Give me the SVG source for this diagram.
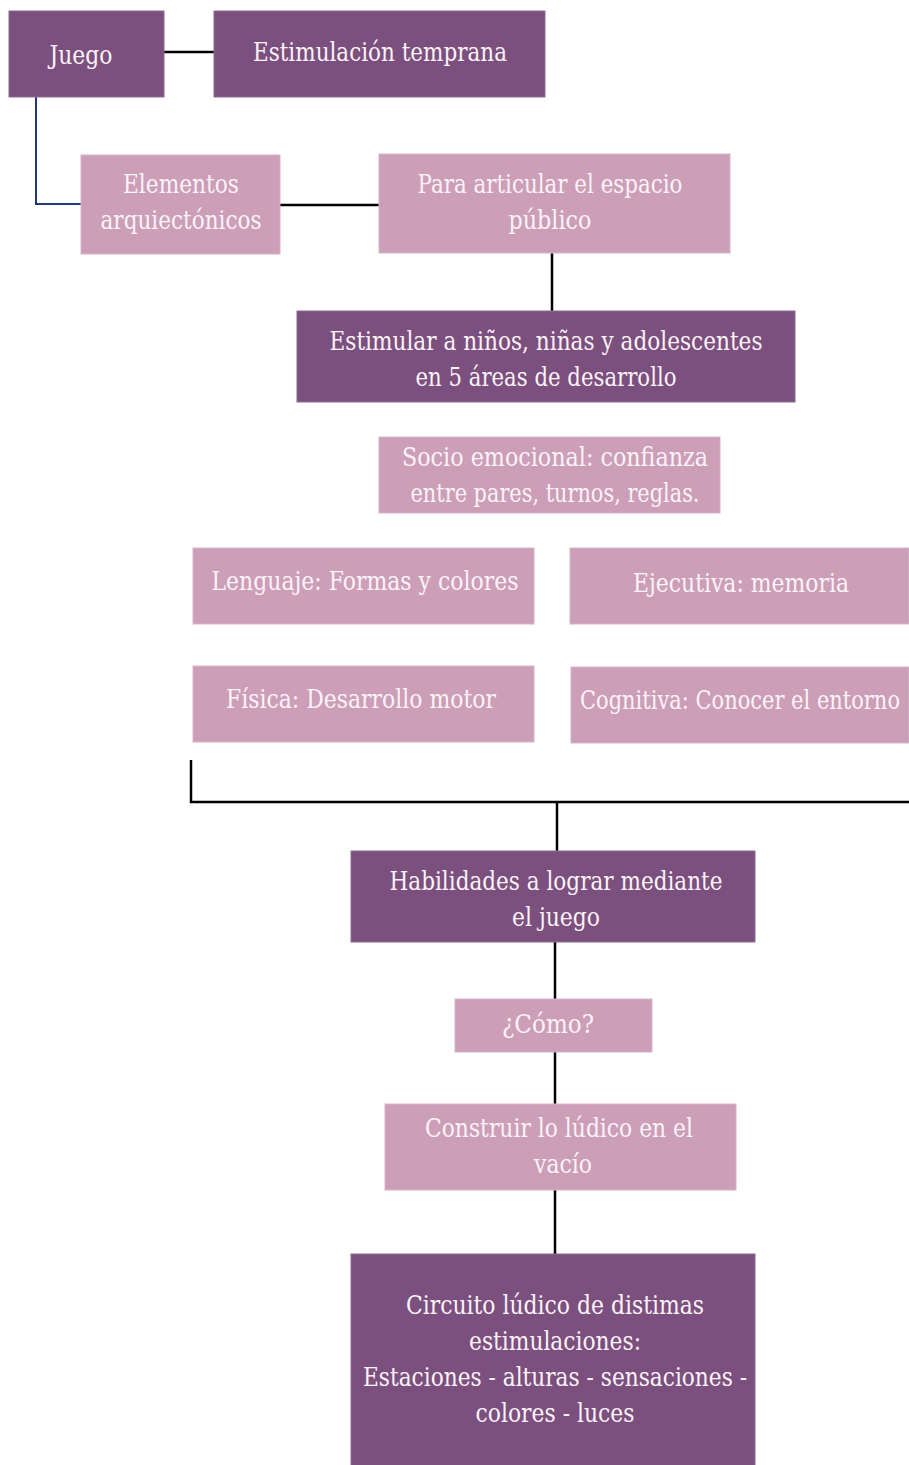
<svg xmlns="http://www.w3.org/2000/svg" width="909" height="1465" viewBox="0 0 909 1465">
<style>
.dark{fill:#7B4F7E;stroke:#8E6A90;stroke-width:1}
.light{fill:#CC9EB8;stroke:#D7B3C7;stroke-width:1}
text{font-size:26px;fill:#FBF3F7;text-anchor:middle}
.c{stroke:#000;stroke-width:2.5;fill:none}
</style>
<rect width="909" height="1465" fill="#FFFFFF"/>
<g id="connectors">
<line class="c" x1="164" y1="52" x2="214" y2="52"/>
<polyline points="36,97 36,204 81,204" fill="none" stroke="#1F3A7A" stroke-width="2"/>
<line class="c" x1="280" y1="205" x2="379" y2="205"/>
<line class="c" x1="552" y1="253" x2="552" y2="311"/>
<polyline class="c" points="191,760 191,802 909,802"/>
<line class="c" x1="557" y1="802" x2="557" y2="851"/>
<line class="c" x1="555" y1="942" x2="555" y2="999"/>
<line class="c" x1="555" y1="1052" x2="555" y2="1104"/>
<line class="c" x1="555" y1="1190" x2="555" y2="1254"/>
</g>
<g font-family="DejaVu Serif, Liberation Serif, serif">
<g id="juego"><rect class="dark" x="9" y="11" width="155" height="86"/><text x="81" y="64" textLength="63" lengthAdjust="spacingAndGlyphs">Juego</text></g>
<g id="estimulacion"><rect class="dark" x="214" y="11" width="331" height="86"/><text x="380" y="61" textLength="254" lengthAdjust="spacingAndGlyphs">Estimulación temprana</text></g>
<g id="elementos"><rect class="light" x="81" y="155" width="199" height="99"/><text x="181" y="193" textLength="116" lengthAdjust="spacingAndGlyphs">Elementos</text><text x="181" y="229" textLength="161" lengthAdjust="spacingAndGlyphs">arquiectónicos</text></g>
<g id="articular"><rect class="light" x="379" y="154" width="351" height="99"/><text x="550" y="193" textLength="265" lengthAdjust="spacingAndGlyphs">Para articular el espacio</text><text x="550" y="229" textLength="83" lengthAdjust="spacingAndGlyphs">público</text></g>
<g id="estimular"><rect class="dark" x="297" y="311" width="498" height="91"/><text x="546" y="350" textLength="433" lengthAdjust="spacingAndGlyphs">Estimular a niños, niñas y adolescentes</text><text x="546" y="386" textLength="261" lengthAdjust="spacingAndGlyphs">en 5 áreas de desarrollo</text></g>
<g id="socio"><rect class="light" x="379" y="437" width="341" height="76"/><text x="555" y="466" textLength="306" lengthAdjust="spacingAndGlyphs">Socio emocional: confianza</text><text x="555" y="502" textLength="289" lengthAdjust="spacingAndGlyphs">entre pares, turnos, reglas.</text></g>
<g id="lenguaje"><rect class="light" x="193" y="548" width="341" height="76"/><text x="365" y="590" textLength="307" lengthAdjust="spacingAndGlyphs">Lenguaje: Formas y colores</text></g>
<g id="ejecutiva"><rect class="light" x="570" y="548" width="339" height="76"/><text x="741" y="592" textLength="216" lengthAdjust="spacingAndGlyphs">Ejecutiva: memoria</text></g>
<g id="fisica"><rect class="light" x="193" y="666" width="341" height="76"/><text x="361" y="708" textLength="270" lengthAdjust="spacingAndGlyphs">Física: Desarrollo motor</text></g>
<g id="cognitiva"><rect class="light" x="571" y="667" width="338" height="76"/><text x="740" y="709" textLength="320" lengthAdjust="spacingAndGlyphs">Cognitiva: Conocer el entorno</text></g>
<g id="habilidades"><rect class="dark" x="351" y="851" width="404" height="91"/><text x="556" y="890" textLength="333" lengthAdjust="spacingAndGlyphs">Habilidades a lograr mediante</text><text x="556" y="926" textLength="88" lengthAdjust="spacingAndGlyphs">el juego</text></g>
<g id="como"><rect class="light" x="455" y="999" width="197" height="53"/><text x="548" y="1033" textLength="92" lengthAdjust="spacingAndGlyphs">¿Cómo?</text></g>
<g id="construir"><rect class="light" x="385" y="1104" width="351" height="86"/><text x="559" y="1137" textLength="268" lengthAdjust="spacingAndGlyphs">Construir lo lúdico en el</text><text x="563" y="1173" textLength="58" lengthAdjust="spacingAndGlyphs">vacío</text></g>
<g id="circuito"><rect class="dark" x="351" y="1254" width="404" height="212"/><text x="555" y="1314" textLength="298" lengthAdjust="spacingAndGlyphs">Circuito lúdico de distimas</text><text x="555" y="1350" textLength="172" lengthAdjust="spacingAndGlyphs">estimulaciones:</text><text x="555" y="1386" textLength="384" lengthAdjust="spacingAndGlyphs">Estaciones - alturas - sensaciones -</text><text x="555" y="1422" textLength="159" lengthAdjust="spacingAndGlyphs">colores - luces</text></g>
</g>
</svg>
